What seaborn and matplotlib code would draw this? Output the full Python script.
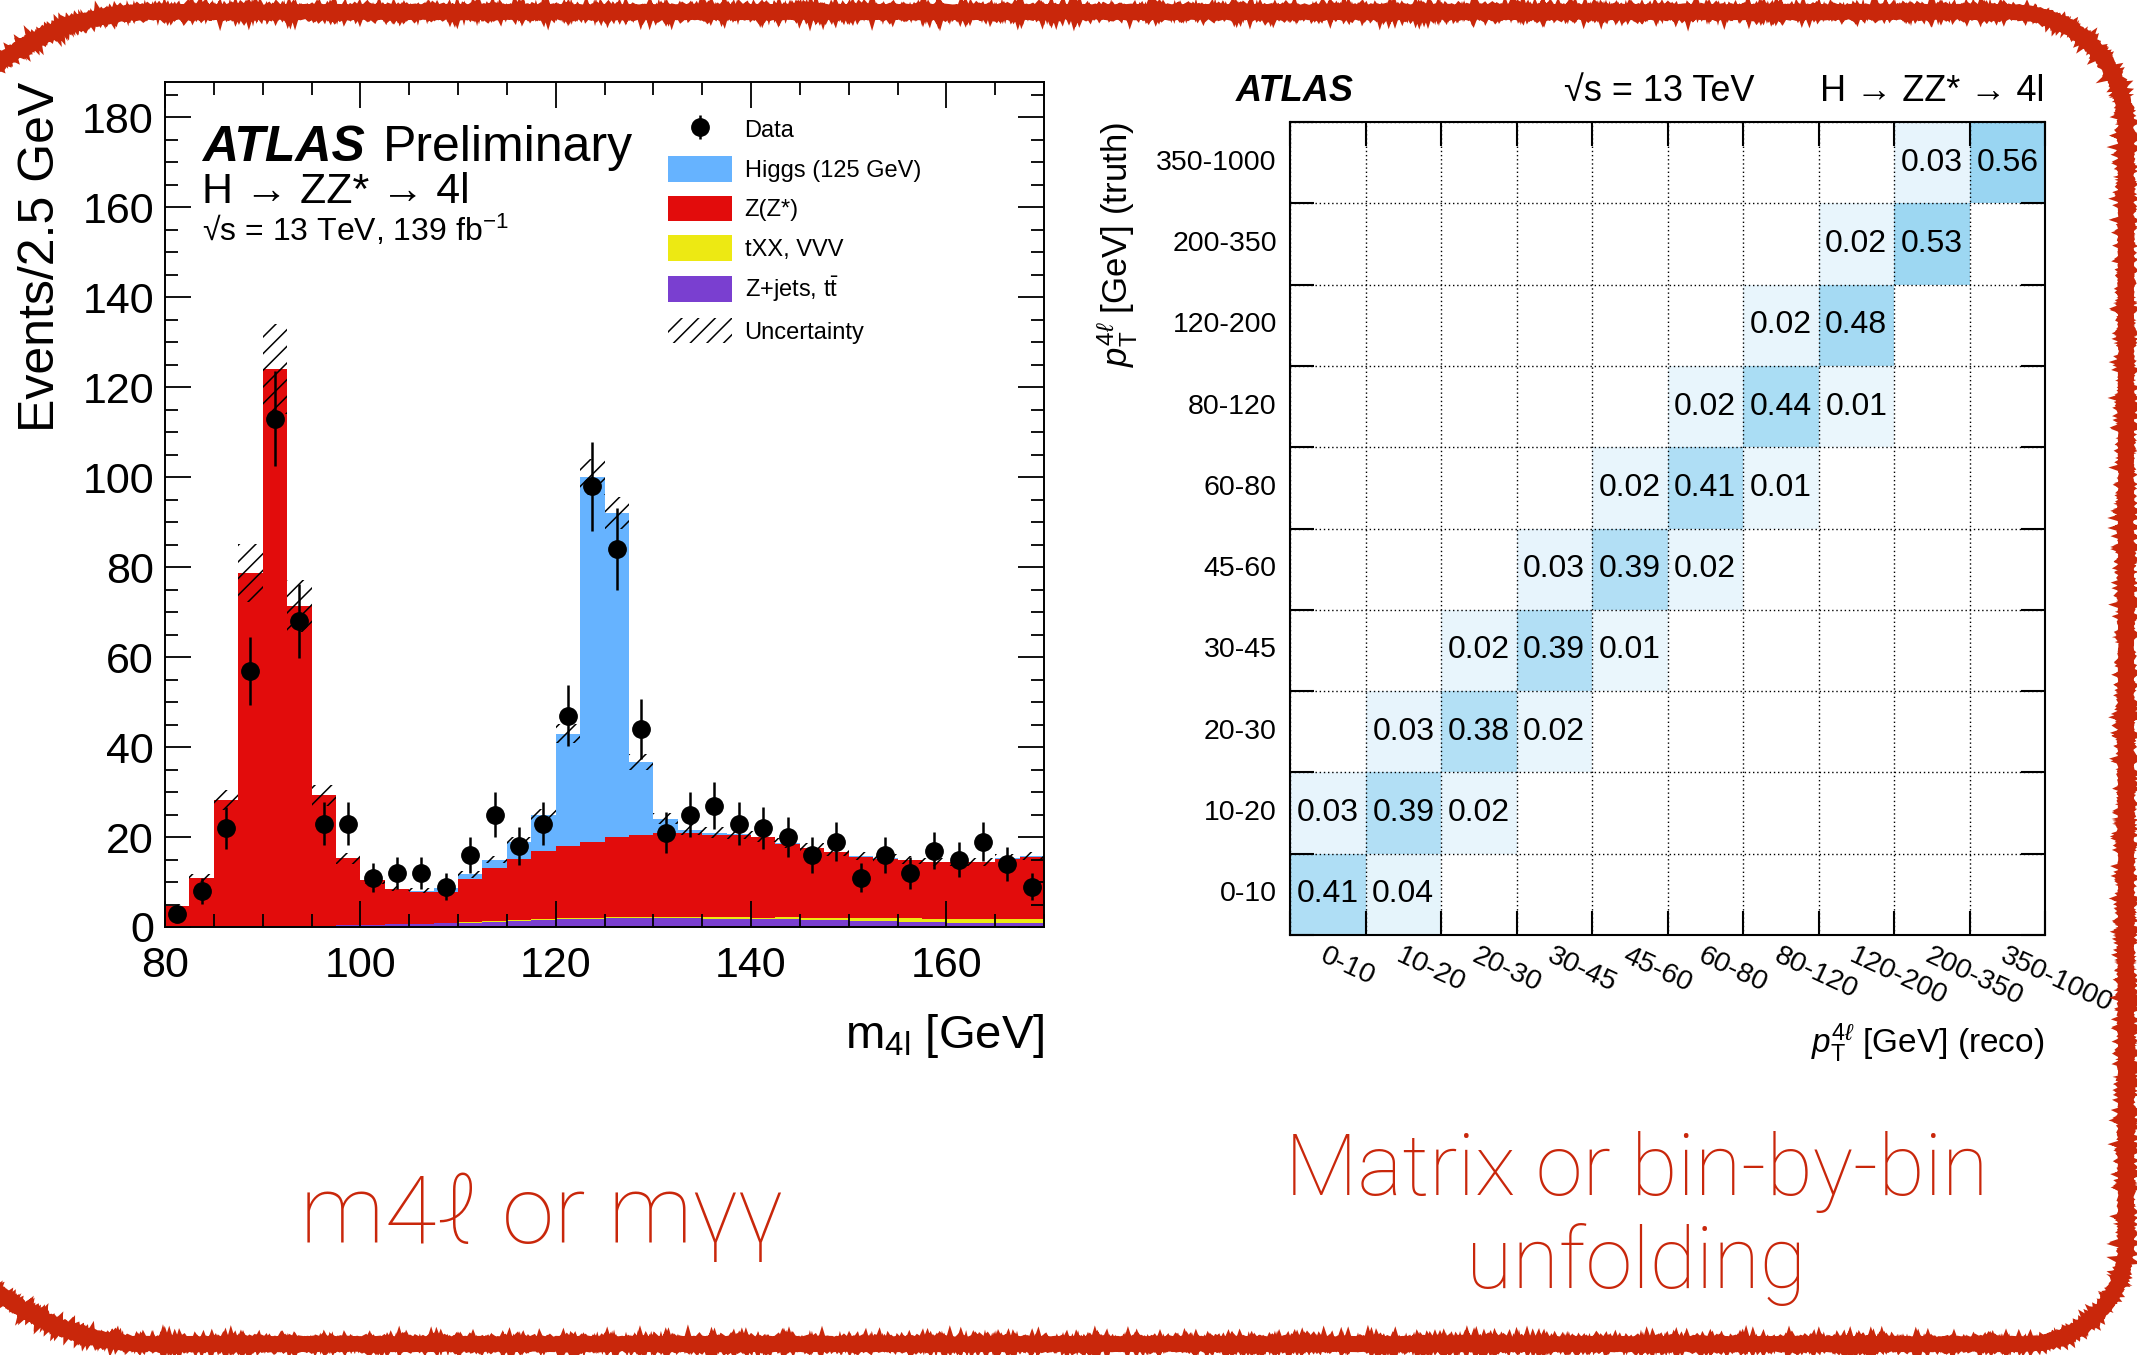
import numpy as np
import pandas as pd
import matplotlib
matplotlib.use("Agg")
import matplotlib.pyplot as plt
import seaborn as sns
from matplotlib.patches import Patch, PathPatch
from matplotlib.path import Path
from matplotlib.transforms import Affine2D
from matplotlib.colors import LinearSegmentedColormap
from matplotlib.ticker import MultipleLocator

# ---------------- data: m4l histogram (36 bins of 2.5 GeV, 80-170 GeV) ----------------
m_low = 80.0
bin_width = 2.5
zjets = [0.1, 0.1, 0.15, 0.2, 0.2, 0.25, 0.3, 0.35, 0.5, 0.6, 0.7, 0.8, 1.0, 1.2, 1.4, 1.6,
         1.7, 1.8, 1.9, 1.9, 1.9, 1.9, 1.8, 1.8, 1.7, 1.7, 1.6, 1.5, 1.4, 1.3, 1.2, 1.1,
         1.0, 0.9, 0.9, 0.8]
txx = [0.01, 0.01, 0.02, 0.02, 0.02, 0.02, 0.03, 0.03, 0.04, 0.05, 0.06, 0.08, 0.1, 0.12, 0.15, 0.18,
       0.2, 0.22, 0.25, 0.28, 0.3, 0.32, 0.35, 0.38, 0.4, 0.45, 0.5, 0.55, 0.6, 0.65, 0.7, 0.75,
       0.8, 0.85, 0.9, 0.9]
zz = [4.6, 10.7, 28.0, 78.5, 123.8, 71.0, 28.9, 14.9, 9.9, 7.8, 7.1, 7.0, 9.5, 11.7, 13.5, 15.0,
      16.1, 16.9, 17.8, 18.2, 18.6, 18.6, 18.4, 18.2, 17.8, 16.4, 15.4, 14.6, 13.6, 13.2, 12.9, 12.5,
      12.6, 12.6, 13.4, 13.9]
higgs = [0, 0, 0, 0, 0, 0, 0, 0, 0, 0.1, 0.2, 0.7, 1.1, 1.9, 3.9, 8.2,
         25.0, 81.0, 72.0, 16.3, 3.3, 0.8, 0.4, 0.3, 0.2, 0.1, 0.1, 0.1, 0.1, 0.1, 0.1, 0.1,
         0.1, 0.1, 0.1, 0.1]
data_counts = [3, 8, 22, 57, 113, 68, 23, 23, 11, 12, 12, 9, 16, 25, 18, 23,
               47, 98, 84, 44, 21, 25, 27, 23, 22, 20, 16, 19, 11, 16, 12, 17,
               15, 19, 14, 9]
syst_unc = [0.4, 0.9, 2.2, 6.5, 10.0, 5.8, 2.3, 1.2, 0.8, 0.6, 0.6, 0.6, 0.7, 0.8, 1.0, 1.3,
            2.2, 4.0, 3.6, 1.8, 1.3, 1.2, 1.2, 1.2, 1.2, 1.1, 1.0, 1.0, 0.9, 0.9, 0.9, 0.9,
            0.9, 0.9, 0.9, 0.9]
process_names = ["Higgs (125 GeV)", "Z(Z*)", "tXX, VVV", "Z+jets, t$\\bar{\\mathrm{t}}$"]
process_colors = ["#66b3ff", "#e20c0c", "#ede913", "#7a3fd0"]

# ---------------- data: response matrix ----------------
pt_bins = ["0-10", "10-20", "20-30", "30-45", "45-60", "60-80", "80-120", "120-200", "200-350", "350-1000"]
diag_vals = [0.41, 0.39, 0.38, 0.39, 0.39, 0.41, 0.44, 0.48, 0.53, 0.56]
right_vals = [0.04, 0.02, 0.02, 0.01, 0.02, 0.01, 0.01, None, None]   # truth i -> reco i+1
left_vals = [0.03, 0.03, 0.02, 0.03, 0.02, 0.02, 0.02, 0.02, 0.03]    # truth i+1 -> reco i

# ---------------- style ----------------
plt.rcParams['font.family'] = ['Liberation Sans', 'DejaVu Sans']
plt.rcParams['mathtext.fontset'] = 'custom'
plt.rcParams['mathtext.rm'] = 'Liberation Sans'
plt.rcParams['mathtext.it'] = 'Liberation Sans:italic'
plt.rcParams['mathtext.bf'] = 'Liberation Sans:bold'
plt.rcParams['hatch.linewidth'] = 1.1
NARROW = ['Liberation Sans Narrow', 'Liberation Sans', 'DejaVu Sans']
RED = '#c9270b'

W, H = 2137, 1355
fig = plt.figure(figsize=(W / 100, H / 100), dpi=100)


def fx(px):
    return px / W


def fy(py):
    return 1 - py / H


# ================= left panel: stacked m4l histogram =================
ax = fig.add_axes([fx(165), fy(927), (1044 - 165) / W, (927 - 82) / H])
n_bins = len(zz)
edges = m_low + bin_width * np.arange(n_bins + 1)
centers = edges[:-1] + bin_width / 2

rows = []
for name, vals in zip(process_names, [higgs, zz, txx, zjets]):
    for c, v in zip(centers, vals):
        rows.append((c, v, name))
df = pd.DataFrame(rows, columns=["m4l", "w", "process"])

sns.histplot(data=df, x="m4l", weights="w", hue="process", hue_order=process_names,
             palette=dict(zip(process_names, process_colors)), multiple="stack",
             bins=n_bins, binrange=(edges[0], edges[-1]), element="step", fill=True,
             alpha=1, linewidth=0, legend=False, ax=ax)

total = np.array(zjets) + np.array(txx) + np.array(zz) + np.array(higgs)
unc = np.array(syst_unc)
lo = np.append(total - unc, (total - unc)[-1])
hi = np.append(total + unc, (total + unc)[-1])
ax.fill_between(edges, lo, hi, step="post", facecolor="none", edgecolor="black",
                hatch="//", linewidth=0, zorder=3)

counts = np.array(data_counts, dtype=float)
eb = ax.errorbar(centers, counts, yerr=np.sqrt(counts), fmt="o", color="black",
                 ms=12.5, elinewidth=1.8, capsize=0, zorder=5)

ax.set_xlim(80, 170)
ax.set_ylim(0, 187.8)
ax.set_xlabel("")
ax.set_ylabel("")
ax.xaxis.set_major_locator(MultipleLocator(20))
ax.xaxis.set_minor_locator(MultipleLocator(5))
ax.yaxis.set_major_locator(MultipleLocator(20))
ax.yaxis.set_minor_locator(MultipleLocator(5))
ax.tick_params(which="both", direction="in", top=True, right=True, width=1.3)
ax.tick_params(which="major", length=19, labelsize=31)
ax.tick_params(which="minor", length=9.5)
ax.tick_params(axis="x", which="major", pad=14)
ax.tick_params(axis="y", which="major", pad=8)
for s in ax.spines.values():
    s.set_linewidth(1.4)

fig.text(fx(41), fy(82), "Events/2.5 GeV", rotation=90, ha="center", va="top", fontsize=36)
fig.text(fx(1044), fy(1036), r"m$_{4\mathrm{l}}$ [GeV]", ha="right", va="center", fontsize=34)

ax.text(0.042, 0.906, "ATLAS", transform=ax.transAxes, fontsize=36, fontweight="bold",
        fontstyle="italic", va="baseline")
ax.text(0.248, 0.906, "Preliminary", transform=ax.transAxes, fontsize=36, va="baseline")
ax.text(0.042, 0.857, "H → ZZ* → 4l", transform=ax.transAxes, fontsize=31, va="baseline")
ax.text(0.042, 0.812, "√s = 13 TeV, 139 fb$^{-1}$", transform=ax.transAxes,
        fontsize=23, va="baseline")

handles = [eb] + [Patch(facecolor=c, edgecolor="none") for c in process_colors] + \
          [Patch(facecolor="none", edgecolor="black", hatch="//", linewidth=0)]
labels = ["Data"] + process_names + ["Uncertainty"]
ax.legend(handles, labels, loc="upper left", bbox_to_anchor=(0.572, 0.959), frameon=False,
          fontsize=17, borderpad=0, borderaxespad=0, handlelength=2.7, handleheight=1.3,
          labelspacing=0.58, handletextpad=0.55)

# ================= right panel: response matrix =================
n = len(pt_bins)
mat = np.full((n, n), np.nan)
for i in range(n):
    mat[i, i] = diag_vals[i]
for i, v in enumerate(right_vals):
    if v is not None:
        mat[i, i + 1] = v
for i, v in enumerate(left_vals):
    mat[i + 1, i] = v
mat_df = pd.DataFrame(mat[::-1], index=pt_bins[::-1], columns=pt_bins)

cmap = LinearSegmentedColormap.from_list("atlasblue", ["#ebf6fc", "#58bcea"])
ax2 = fig.add_axes([fx(1290), fy(935), (2045 - 1290) / W, (935 - 122) / H])
sns.heatmap(mat_df, ax=ax2, cmap=cmap, vmin=0, vmax=1, cbar=False, annot=True, fmt=".2f",
            annot_kws={"fontsize": 23, "color": "black", "family": NARROW},
            xticklabels=pt_bins, yticklabels=pt_bins[::-1])
for s in ax2.spines.values():
    s.set_visible(True)
    s.set_linewidth(1.5)
    s.set_color("black")
ax2.set_xticks(np.arange(n) + 0.5)
ax2.set_xticklabels(pt_bins, rotation=-25, ha="left", va="top", rotation_mode="anchor",
                    fontsize=20.5, family=NARROW)
ax2.set_yticks(np.arange(n) + 0.5)
ax2.set_yticklabels(pt_bins[::-1], rotation=0, fontsize=20.5, family=NARROW)
ax2.tick_params(which="major", length=0)
ax2.tick_params(axis="x", which="major", pad=6)
ax2.tick_params(axis="y", which="major", pad=9.5)
ax2.set_xticks(np.arange(n + 1), minor=True)
ax2.set_yticks(np.arange(n + 1), minor=True)
ax2.tick_params(which="minor", direction="in", length=17, width=1.5,
                top=True, right=True, bottom=True, left=True)
ax2.grid(False, which="major")
ax2.grid(True, which="minor", color="black", linestyle=(0, (1, 2)), linewidth=1.0)
ax2.set_axisbelow(False)
ax2.set_xlabel("")
ax2.set_ylabel("")

fig.text(fx(1295), fy(101), "ATLAS", ha="center", va="baseline", fontsize=26,
         fontweight="bold", fontstyle="italic", family=NARROW)
fig.text(fx(1659), fy(101), "√s = 13 TeV", ha="center", va="baseline", fontsize=26, family=NARROW)
fig.text(fx(2044), fy(101), "H → ZZ* → 4l", ha="right", va="baseline", fontsize=26, family=NARROW)
fig.text(fx(2044), fy(1043), r"$p_{\mathrm{T}}^{4\ell}$ [GeV] (reco)", ha="right", va="center",
         fontsize=24, family=NARROW)
fig.text(fx(1118), fy(122), r"$p_{\mathrm{T}}^{4\ell}$ [GeV] (truth)", rotation=90,
         ha="center", va="top", fontsize=25)

# ================= overlay: red hand-drawn frame and slide captions =================
axo = fig.add_axes([0, 0, 1, 1])
axo.set_xlim(0, W)
axo.set_ylim(H, 0)
axo.axis("off")
axo.patch.set_alpha(0)

x_l, x_r, y_t, y_b = -100, 2126, 12, 1344
r_l, r_tr, r_br = 250, 115, 100
corners = [(x_l + r_l, y_t + r_l, r_l, 180, 270),
           (x_r - r_tr, y_t + r_tr, r_tr, 270, 360),
           (x_r - r_br, y_b - r_br, r_br, 0, 90),
           (x_l + r_l, y_b - r_l, r_l, 90, 180)]
verts, codes = [], []
for k, (cx, cy, r, a0, a1) in enumerate(corners):
    arc = Path.arc(a0, a1)
    v = Affine2D().scale(r).translate(cx, cy).transform(arc.vertices)
    c = list(arc.codes)
    if k > 0:
        c[0] = Path.LINETO
    verts.extend(v.tolist())
    codes.extend(c)
verts.append(verts[0])
codes.append(Path.CLOSEPOLY)
frame_path = Path(verts, codes)

for lw, sk in [(10, (1.2, 6, 2)), (7, (1.8, 3, 3)), (4, (2.2, 2, 4))]:
    frame = PathPatch(frame_path, facecolor="none", edgecolor=RED, linewidth=lw, clip_on=False)
    frame.set_sketch_params(*sk)
    axo.add_patch(frame)

cap_font = ["Roboto", "DejaVu Sans"]
axo.text(542, 1243, "m4ℓ or mγγ", ha="center", va="baseline", fontsize=68, color=RED,
         family=cap_font, fontweight="light")
axo.text(1637, 1195, "Matrix or bin-by-bin", ha="center", va="baseline", fontsize=61, color=RED,
         family=cap_font, fontweight="light")
axo.text(1636, 1288, "unfolding", ha="center", va="baseline", fontsize=61, color=RED,
         family=cap_font, fontweight="light")

fig.savefig("out.png", dpi=100)
